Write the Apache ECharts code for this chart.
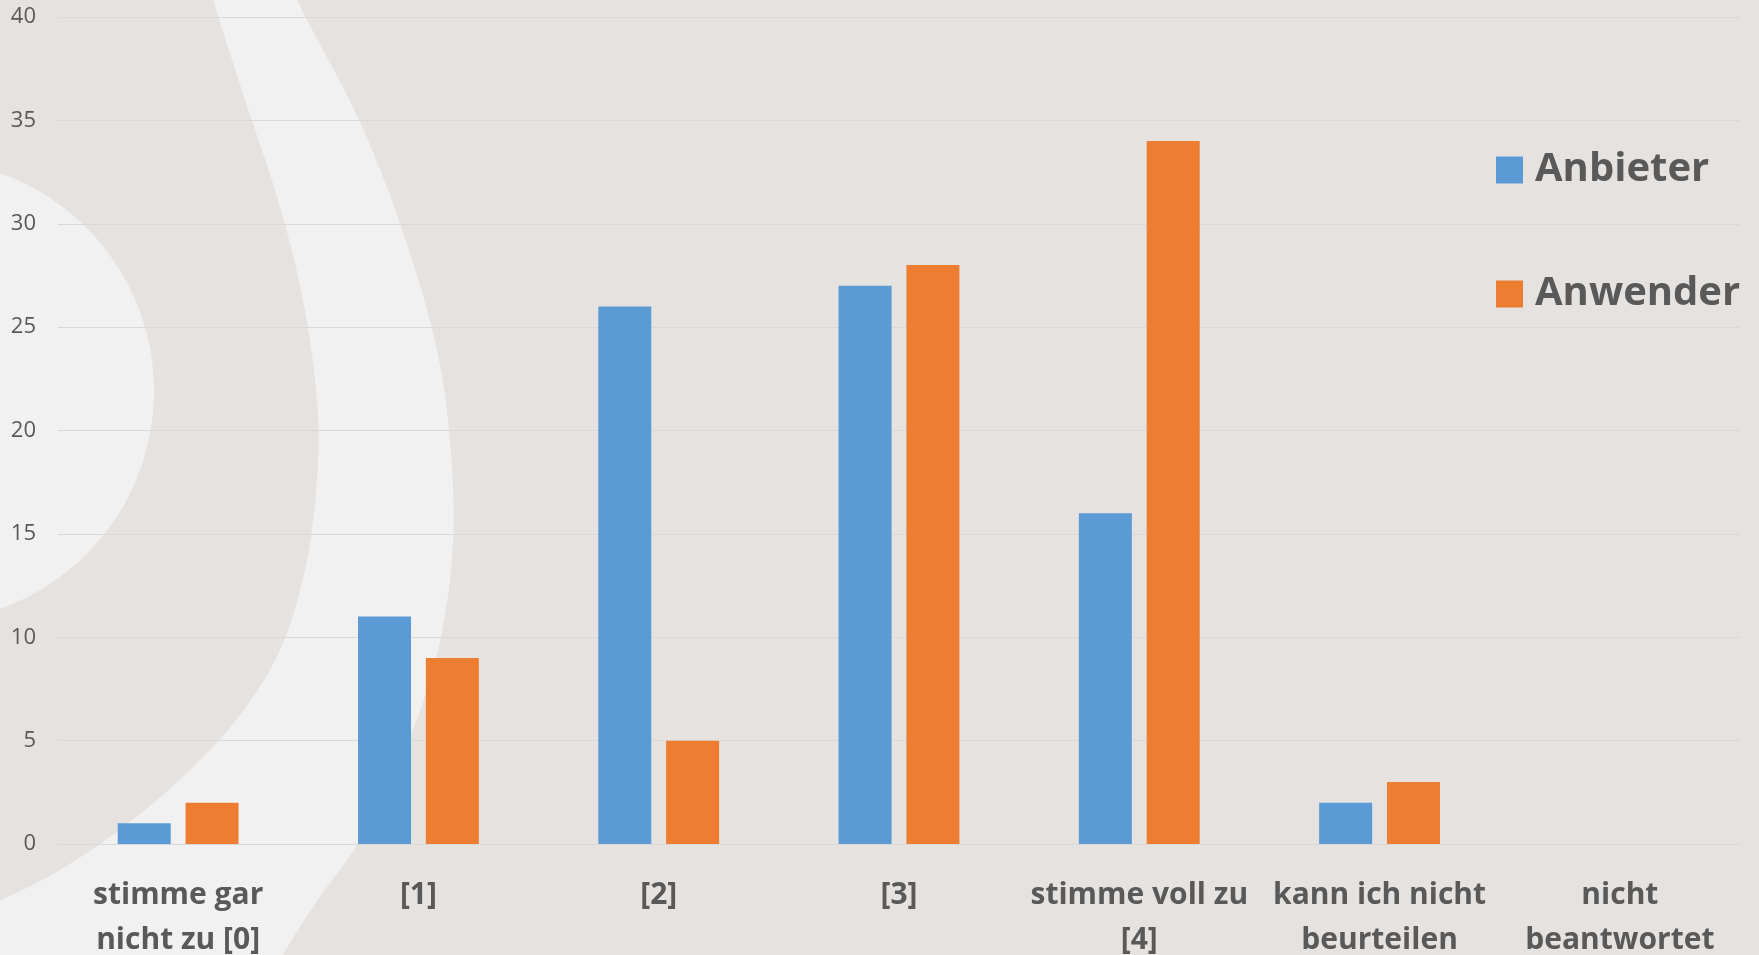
<!DOCTYPE html>
<html>
<head>
<meta charset="utf-8">
<title>Anbieter / Anwender</title>
<script src="https://cdn.jsdelivr.net/npm/echarts@6/dist/echarts.min.js"></script>
<style>
  html, body { margin: 0; padding: 0; background: #e5e2df; }
  #chart { width: 1759px; height: 955px; }
</style>
</head>
<body>
<div id="chart"></div>
<script>
// Answer categories (x axis)
const categories = [
  'stimme gar\nnicht zu [0]',
  '[1]',
  '[2]',
  '[3]',
  'stimme voll zu\n[4]',
  'kann ich nicht\nbeurteilen',
  'nicht\nbeantwortet'
];

// Series
const seriesNames = ['Anbieter', 'Anwender'];
const anbieter = [1, 11, 26, 27, 16, 2, 0];
const anwender = [2, 9, 5, 28, 34, 3, 0];

// Value axis range
const yMin = 0;
const yMax = 40;
const yStep = 5;

// Decorative backdrop: outer edge of the light swoosh and of the dark band inside it
const lightEdge = [[286, -40], [297, 0], [360, 122], [407, 244], [440, 365], [453, 487],
  [450, 579], [433, 670], [400, 761], [360, 840], [317, 901], [283, 955], [262, 1000]];
const darkEdge = [[202, -40], [213, 0], [245, 100], [278, 200], [303, 300], [317, 400], [317, 480],
  [305, 570], [280, 650], [240, 715], [190, 770], [130, 822], [60, 870], [0, 901], [-60, 930]];

const LIGHT = '#f2f1f1';
const DARK = '#e5e2df';
const TEXT = '#595959';
const FONT = '"Open Sans", "Liberation Sans", sans-serif';

// Sample a Catmull-Rom curve through the points and close it along the left side
function swooshPolygon(pts) {
  const out = [[-200, pts[0][1]]];
  const steps = 16;
  for (let i = 0; i < pts.length - 1; i++) {
    const p0 = pts[Math.max(i - 1, 0)];
    const p1 = pts[i];
    const p2 = pts[i + 1];
    const p3 = pts[Math.min(i + 2, pts.length - 1)];
    for (let s = 0; s < steps; s++) {
      const t = s / steps, t2 = t * t, t3 = t2 * t;
      const f = (a, b, c, d) => 0.5 * ((2 * b) + (-a + c) * t + (2 * a - 5 * b + 4 * c - d) * t2 + (-a + 3 * b - 3 * c + d) * t3);
      out.push([f(p0[0], p1[0], p2[0], p3[0]), f(p0[1], p1[1], p2[1], p3[1])]);
    }
  }
  const last = pts[pts.length - 1];
  out.push([last[0], last[1]]);
  out.push([-200, last[1]]);
  return out;
}

const chart = echarts.init(document.getElementById('chart'), null, { renderer: 'canvas' });

chart.setOption({
  backgroundColor: DARK,
  animation: false,
  color: ['#5b9bd5', '#ed7d31'],
  graphic: [
    { type: 'polygon', z: -100, silent: true, shape: { points: swooshPolygon(lightEdge) }, style: { fill: LIGHT } },
    { type: 'polygon', z: -99, silent: true, shape: { points: swooshPolygon(darkEdge) }, style: { fill: DARK } },
    { type: 'circle', z: -98, silent: true, shape: { cx: -77, cy: 391, r: 231 }, style: { fill: LIGHT } }
  ],
  grid: { left: 58, right: 19, top: 17, bottom: 111, containLabel: false, outerBoundsMode: 'none' },
  legend: {
    data: seriesNames,
    orient: 'vertical',
    left: 1491,
    top: 145,
    itemWidth: 27,
    itemHeight: 27,
    itemGap: 84,
    icon: 'rect',
    textStyle: {
      fontFamily: FONT,
      fontSize: 40,
      fontWeight: 'bold',
      color: TEXT,
      padding: [0, 0, 0, 7]
    }
  },
  xAxis: {
    type: 'category',
    data: categories,
    axisTick: { show: false },
    axisLine: { show: true, lineStyle: { color: '#d9d9d9', width: 1 } },
    axisLabel: {
      interval: 0,
      margin: 29,
      fontFamily: FONT,
      fontSize: 30,
      fontWeight: 'bold',
      color: TEXT,
      lineHeight: 45
    }
  },
  yAxis: {
    type: 'value',
    min: yMin,
    max: yMax,
    interval: yStep,
    axisLine: { show: false },
    axisTick: { show: false },
    splitLine: { lineStyle: { color: '#d9d9d9', width: 1 } },
    axisLabel: {
      margin: 22,
      fontFamily: FONT,
      fontSize: 22,
      color: TEXT
    }
  },
  series: [
    { name: seriesNames[0], type: 'bar', data: anbieter, barWidth: 53, barGap: '28%' },
    { name: seriesNames[1], type: 'bar', data: anwender, barWidth: 53, barGap: '28%' }
  ]
});
</script>
</body>
</html>
